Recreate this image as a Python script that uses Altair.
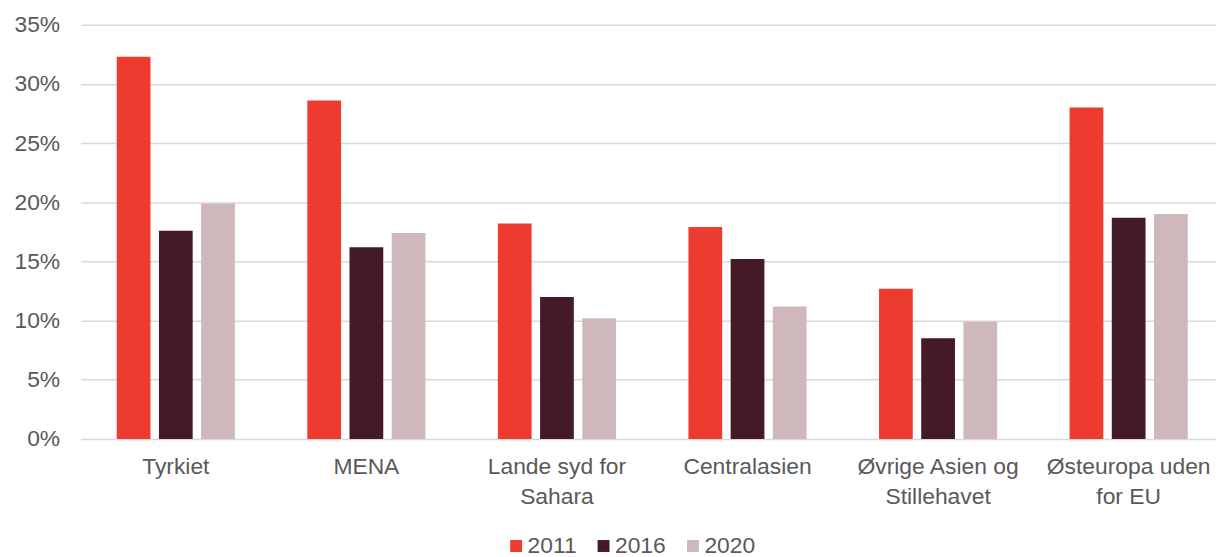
import altair as alt
import pandas as pd

categories = [
    "Tyrkiet",
    "MENA",
    "Lande syd for\nSahara",
    "Centralasien",
    "Øvrige Asien og\nStillehavet",
    "Østeuropa uden\nfor EU",
]
years = ["2011", "2016", "2020"]
values_2011 = [0.323, 0.286, 0.182, 0.179, 0.127, 0.280]
values_2016 = [0.176, 0.162, 0.120, 0.152, 0.085, 0.187]
values_2020 = [0.199, 0.174, 0.102, 0.112, 0.099, 0.190]
colors = ["#EE3B2F", "#431A26", "#CEB8BB"]

rows = []
for yr, vals in zip(years, [values_2011, values_2016, values_2020]):
    for c, v in zip(categories, vals):
        rows.append({"category": c, "year": yr, "value": v})
df = pd.DataFrame(rows)

FONT = "Liberation Sans"
TXT = "#595959"

chart = (
    alt.Chart(df)
    .mark_bar()
    .encode(
        x=alt.X(
            "category:N",
            sort=categories,
            scale=alt.Scale(paddingInner=0.38, paddingOuter=0.19),
            axis=alt.Axis(
                title=None,
                labelAngle=0,
                domain=False,
                ticks=False,
                labelFont=FONT,
                labelFontSize=23,
                labelColor=TXT,
                labelPadding=17,
                labelLineHeight=30,
                labelExpr="split(datum.label, '\\n')",
            ),
        ),
        xOffset=alt.XOffset(
            "year:N", sort=years, scale=alt.Scale(paddingInner=0.2, paddingOuter=0)
        ),
        y=alt.Y(
            "value:Q",
            scale=alt.Scale(domain=[0, 0.35], nice=False),
            axis=alt.Axis(
                title=None,
                format=".0%",
                values=[0, 0.05, 0.1, 0.15, 0.2, 0.25, 0.3, 0.35],
                domain=False,
                ticks=False,
                grid=True,
                gridColor="#D9D9D9",
                gridWidth=1.5,
                labelFont=FONT,
                labelFontSize=23,
                labelColor=TXT,
                labelPadding=21,
            ),
        ),
        color=alt.Color(
            "year:N",
            sort=years,
            scale=alt.Scale(domain=years, range=colors),
            legend=alt.Legend(
                title=None,
                orient="none",
                legendX=427,
                legendY=513,
                direction="horizontal",
                symbolType="square",
                symbolSize=144,
                symbolStrokeWidth=0,
                labelFont=FONT,
                labelFontSize=23,
                labelColor=TXT,
                labelOffset=0,
                columnPadding=15,
                padding=0,
            ),
        ),
    )
    .properties(
        width=1151,
        height=417,
        autosize=alt.AutoSizeParams(type="none"),
        padding={"left": 73, "top": 15, "right": -8, "bottom": 117},
    )
    .configure_view(stroke=None)
)

chart.save("out.html", embed_options={"renderer": "svg", "actions": False})
